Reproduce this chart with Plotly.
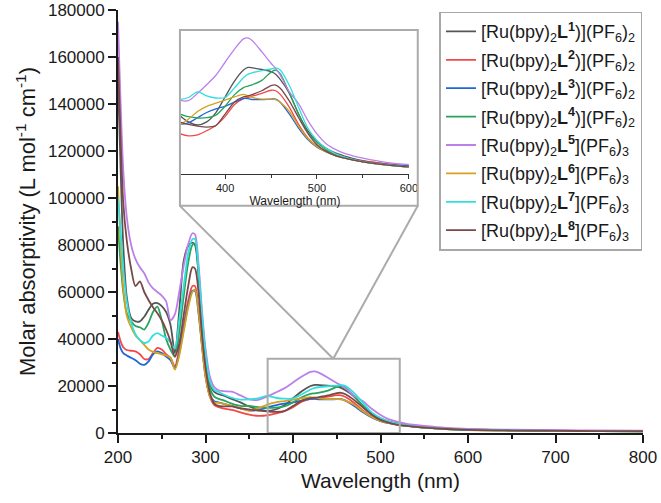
import plotly.graph_objects as go

wavelength = [200, 203, 206, 210, 215, 220, 225, 230, 235, 240, 245, 250, 255, 260, 265, 270, 275, 280, 285, 288,
              292, 296, 300, 305, 310, 315, 320, 330, 340, 350, 360, 370, 380, 390, 400, 410, 420, 425, 430, 440,
              450, 455, 460, 470, 480, 490, 500, 510, 520, 530, 540, 550, 575, 600, 650, 700, 750, 800]

eps_L1 = [150000, 112000, 80000, 58000, 49000, 47500, 47500, 49500, 52500, 55000, 55300, 54000, 51500, 46000, 34000,
          52000, 73000, 79500, 81000, 80000, 68000, 47000, 31000, 21000, 17500, 16500, 16000, 14500, 13000, 11300,
          10000, 9400, 10000, 11800, 14800, 17800, 20000, 20500, 20400, 20100, 19700, 19200, 18200, 15500, 11500,
          8300, 6200, 4900, 4000, 3400, 2900, 2500, 1900, 1500, 1200, 1000, 900, 850]
eps_L2 = [43000, 39000, 36500, 35300, 35000, 34700, 33500, 31500, 31500, 34000, 36200, 35500, 33500, 32000, 28300,
          36000, 46000, 56000, 62500, 62500, 53000, 38000, 25000, 15500, 12000, 11000, 10500, 9800, 8800, 7800,
          7300, 7500, 8300, 9300, 11000, 13300, 14500, 14700, 15000, 15500, 16100, 16000, 15300, 12800, 9500,
          6900, 5300, 4300, 3600, 3100, 2700, 2400, 1900, 1500, 1200, 1000, 900, 850]
eps_L3 = [40000, 36000, 34000, 33000, 32000, 31000, 29500, 29000, 30500, 33500, 34700, 34000, 32500, 31000, 27500,
          34000, 44000, 54000, 60500, 60500, 51000, 37000, 24000, 16000, 13500, 13000, 12500, 11500, 10500, 9600,
          9800, 10800, 11800, 12500, 13000, 13800, 14500, 14500, 14300, 14300, 14400, 14400, 13800, 11500, 8800,
          6600, 5100, 4200, 3500, 3000, 2600, 2300, 1800, 1450, 1150, 950, 850, 800]
eps_L4 = [88000, 72000, 60000, 51000, 47500, 45500, 45000, 44000, 47000, 51500, 53800, 48000, 40000, 35500, 32500,
          43000, 58000, 72000, 80000, 80500, 68000, 46000, 30000, 19000, 15500, 14500, 14000, 12500, 11500, 11500,
          11000, 10750, 10800, 11300, 13000, 15200, 16600, 16900, 17200, 18000, 19600, 20000, 19300, 15500, 11500,
          8000, 6000, 4600, 3700, 3100, 2600, 2300, 1700, 1300, 1050, 900, 800, 750]
eps_L5 = [175000, 140000, 112000, 92000, 80000, 74000, 70500, 68000, 64000, 61500, 60000, 58500, 56000, 48000, 50500,
          60000, 71000, 80000, 85000, 84500, 72000, 52000, 36000, 24000, 19500, 18200, 17800, 17600, 16000, 14300,
          14100, 15500, 17200, 19000, 21500, 24000, 26000, 26200, 25600, 23500, 21300, 20300, 19000, 15800, 13500,
          10300, 7700, 5800, 4700, 3900, 3400, 3000, 2200, 1750, 1400, 1200, 1100, 1000]
eps_L6 = [105000, 80000, 62000, 50000, 45000, 41500, 39500, 37500, 35500, 34500, 34000, 33500, 33000, 32000, 27000,
          33000, 43000, 53000, 60000, 61000, 52000, 37000, 24000, 15500, 13000, 12800, 12500, 11500, 10500, 9500,
          10500, 12000, 13000, 13600, 14200, 14800, 15300, 15000, 14700, 14400, 14400, 14300, 13800, 12000, 9200,
          6800, 5200, 4200, 3500, 3000, 2600, 2300, 1700, 1250, 1000, 850, 780, 720]
eps_L7 = [100000, 86000, 70000, 56000, 47000, 42000, 39500, 38300, 39000, 41500, 42500, 41500, 40500, 38500, 36000,
          48000, 62000, 76000, 82500, 82500, 70000, 50000, 34000, 22000, 18300, 17500, 16500, 15000, 14200, 14300,
          14700, 15800, 15000, 14600, 14700, 16500, 18500, 19200, 19500, 19900, 20200, 20400, 20000, 17000, 12800,
          8800, 6400, 4900, 3900, 3200, 2700, 2300, 1700, 1300, 1050, 900, 800, 750]
eps_L8 = [160000, 125000, 98000, 82000, 70000, 62500, 64500, 60000, 56500, 53500, 51000, 48000, 44000, 39000, 32500,
          38000, 50000, 62000, 70500, 70000, 60000, 42000, 28000, 17000, 12500, 11500, 11300, 11300, 10500, 10000,
          9500, 9200, 9000, 9300, 11500, 13800, 14800, 15000, 15300, 16000, 17000, 17100, 16500, 14000, 10800,
          7800, 5600, 4300, 3500, 3000, 2600, 2300, 1700, 1300, 1050, 900, 800, 750]

names = [
    "[Ru(bpy)<sub>2</sub><b>L<sup>1</sup></b>)](PF<sub>6</sub>)<sub>2</sub>",
    "[Ru(bpy)<sub>2</sub><b>L<sup>2</sup></b>)](PF<sub>6</sub>)<sub>2</sub>",
    "[Ru(bpy)<sub>2</sub><b>L<sup>3</sup></b>)](PF<sub>6</sub>)<sub>2</sub>",
    "[Ru(bpy)<sub>2</sub><b>L<sup>4</sup></b>)](PF<sub>6</sub>)<sub>2</sub>",
    "[Ru(bpy)<sub>2</sub><b>L<sup>5</sup></b>](PF<sub>6</sub>)<sub>3</sub>",
    "[Ru(bpy)<sub>2</sub><b>L<sup>6</sup></b>](PF<sub>6</sub>)<sub>3</sub>",
    "[Ru(bpy)<sub>2</sub><b>L<sup>7</sup></b>](PF<sub>6</sub>)<sub>3</sub>",
    "[Ru(bpy)<sub>2</sub><b>L<sup>8</sup></b>](PF<sub>6</sub>)<sub>3</sub>",
]
series = [eps_L1, eps_L2, eps_L3, eps_L4, eps_L5, eps_L6, eps_L7, eps_L8]
colors = ["#555555", "#f24848", "#1d68d8", "#27a35c", "#bb80ea", "#d6a020", "#33dede", "#7a4848"]

FONT = "Liberation Sans, Arial, sans-serif"
fig = go.Figure()

for i, (nm, ys, c) in enumerate(zip(names, series, colors)):
    fig.add_trace(go.Scatter(x=wavelength, y=ys, name=nm, mode="lines", legendgroup=f"g{i}",
                             line=dict(color=c, width=1.8, shape="spline", smoothing=0.8)))
for i, (nm, ys, c) in enumerate(zip(names, series, colors)):
    fig.add_trace(go.Scatter(x=wavelength, y=ys, name=nm, mode="lines", showlegend=False,
                             legendgroup=f"g{i}", xaxis="x2", yaxis="y2",
                             line=dict(color=c, width=1.3, shape="spline", smoothing=0.8)))

# zoom region and callout
zoom_x = [371, 522]
zoom_ymax = 31600
apex_x = 446
gray = "#ababab"
fig.add_shape(type="rect", xref="x", yref="y", x0=zoom_x[0], x1=zoom_x[1], y0=0, y1=zoom_ymax,
              line=dict(color=gray, width=2), layer="above")

# inset box in paper coords
bx0, bx1, by0, by1 = 0.118, 0.571, 0.537, 0.953
fig.add_shape(type="rect", xref="paper", yref="paper", x0=bx0, x1=bx1, y0=by0, y1=by1,
              line=dict(color=gray, width=2), fillcolor="rgba(0,0,0,0)", layer="above")
apex_px = (apex_x - 200) / 600.0
apex_py = zoom_ymax / 180000.0
fig.add_shape(type="line", xref="paper", yref="paper", x0=bx0, y0=by0, x1=apex_px, y1=apex_py,
              line=dict(color=gray, width=2))
fig.add_shape(type="line", xref="paper", yref="paper", x0=bx1, y0=by0, x1=apex_px, y1=apex_py,
              line=dict(color=gray, width=2))

fig.update_layout(
    width=661, height=503,
    margin=dict(l=118, r=18, t=10, b=70, autoexpand=False),
    paper_bgcolor="white", plot_bgcolor="white",
    font=dict(family=FONT, color="#1a1a1a"),
    showlegend=True,
    legend=dict(x=0.999, xanchor="right", y=0.996, yanchor="top",
                bordercolor="#a8a8a8", borderwidth=1.5, bgcolor="white",
                font=dict(size=18, family=FONT, color="#1a1a1a"),
                tracegroupgap=2, itemwidth=30),
    xaxis=dict(range=[200, 800], domain=[0, 1], showline=True, linecolor="#1a1a1a", linewidth=1.8,
               automargin=False,
               ticks="outside", ticklen=8, tickwidth=1.5, tickcolor="#1a1a1a", dtick=100,
               minor=dict(ticks="outside", ticklen=4, dtick=50, tickcolor="#1a1a1a", tickwidth=1.5),
               showgrid=False, zeroline=False, tickfont=dict(size=17),
               title=dict(text="Wavelength (nm)", font=dict(size=21), standoff=7)),
    yaxis=dict(range=[0, 180000], domain=[0, 1], showline=True, linecolor="#1a1a1a", linewidth=1.8,
               automargin=False,
               ticks="outside", ticklen=8, tickwidth=1.5, tickcolor="#1a1a1a", dtick=20000,
               minor=dict(ticks="outside", ticklen=4, dtick=10000, tickcolor="#1a1a1a", tickwidth=1.5),
               showgrid=False, zeroline=False, tickfont=dict(size=17), tickformat="d",
               title=dict(text="Molar absorptivity (L mol<sup>-1</sup> cm<sup>-1</sup>)", font=dict(size=22),
                          standoff=6)),
    xaxis2=dict(range=[352, 600], domain=[0.12, 0.554], anchor="y2", showline=True, linecolor="#333333",
                automargin=False,
                linewidth=1.2, ticks="outside", ticklen=4, tickcolor="#333333", dtick=100, tick0=0,
                minor=dict(ticks="outside", ticklen=3, dtick=50, tickcolor="#333333"),
                showgrid=False, zeroline=False, tickfont=dict(size=11),
                title=dict(text="Wavelength (nm)", font=dict(size=12), standoff=2)),
    yaxis2=dict(range=[0, 27500], domain=[0.613, 0.95], anchor="x2", showline=False, showticklabels=False,
                automargin=False, ticks="", showgrid=False, zeroline=False),
)

fig.write_html("out.html")
